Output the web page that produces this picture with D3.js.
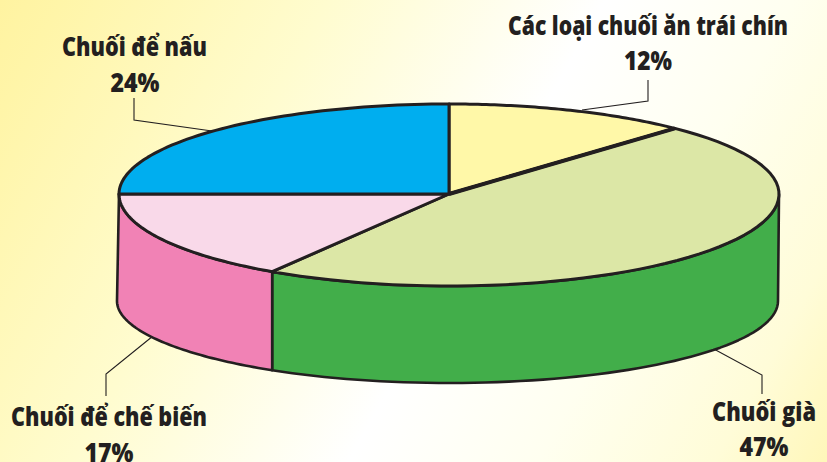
<!DOCTYPE html>
<html><head><meta charset="utf-8">
<script src="https://cdn.jsdelivr.net/npm/d3@7"></script>
<style>html,body{margin:0;padding:0;background:#fff}svg{display:block}
text{font-family:"Open Sans","Noto Sans",sans-serif;font-weight:800;fill:#231f20;text-anchor:middle}</style>
</head><body><script>
const categories = ["Các loại chuối ăn trái chín","Chuối già","Chuối để chế biến","Chuối để nấu"];
const percentLabels = ["12%","47%","17%","24%"];
const sliceShares = [12,47,16,25];
const topColors = ["#fff8a8","#dce7a6","#f9d9e9","#00aeef"];
const sideColors = [null,"#42ae4a","#f182b5",null];

(function(){
const W=827,H=462, cx=449, cy=194, rx=330, ryUp=90, ryDown=92, by=301, bry=82;
const svg=d3.select("body").append("svg").attr("width",W).attr("height",H);
const defs=svg.append("defs");
const g=defs.append("linearGradient").attr("id","bg").attr("gradientUnits","userSpaceOnUse")
 .attr("x1",-10).attr("y1",10).attr("x2",837).attr("y2",480);
[[0,"#fff3a0"],[0.06,"#fff5a8"],[0.3,"#fffccf"],[0.55,"#ffffff"],[0.72,"#fffff0"],[0.88,"#fffcd8"],[1,"#fff6b4"]]
 .forEach(([o,c])=>g.append("stop").attr("offset",o).attr("stop-color",c));
svg.append("rect").attr("width",W).attr("height",H).attr("fill","url(#bg)");

const pie=d3.pie().sort(null).value(d=>d)(sliceShares);
const ink="#231f20";
const line=d3.line();
const sweep=(a0,a1)=>d3.range(0,61).map(k=>a0+(a1-a0)*k/60);

// leaders
const leaders=[[[648,80],[648,101],[582,110]],[[762,394],[762,375],[712,348]],[[106,396],[106,374],[153,336]],[[134,98],[134,120],[212,131]]];
svg.selectAll(".leader").data(leaders).join("path").attr("d",line).attr("fill","none").attr("stroke",ink).attr("stroke-width",1.1);

// side walls
const upper=(a)=>{const c=Math.cos(a);return [cx+rx*Math.sin(a),cy-(c>0?ryUp:ryDown)*c];};
const lower=(a)=>{const s=Math.sin(a),e=Math.pow(s,8);return [cx+rx*s-(s>0?1:2)*e,by-bry*Math.cos(a)];};
pie.forEach((p,i)=>{
  if(!sideColors[i])return;
  const a0=Math.max(p.startAngle,Math.PI/2), a1=Math.min(p.endAngle,1.5*Math.PI);
  const as=sweep(a0,a1);
  const pts=as.map(upper).concat(as.slice().reverse().map(lower));
  svg.append("path").attr("d",line(pts)+"Z").attr("fill",sideColors[i]).attr("stroke",ink).attr("stroke-width",2.6).attr("stroke-linejoin","round");
});

// top slices
svg.append("g").selectAll("path").data(pie).join("path")
 .attr("d",d=>line([[cx,cy]].concat(sweep(d.startAngle,d.endAngle).map(upper)))+"Z")
 .attr("fill",(d,i)=>topColors[i]).attr("stroke",ink).attr("stroke-width",3)
 .attr("stroke-linejoin","round");

// thick spoke between yellow and green
svg.append("path").attr("d",line([[cx,cy],upper(pie[0].endAngle)])).attr("stroke",ink).attr("stroke-width",4).attr("fill","none");

// labels: condensed horizontally to the reference's widths
const nameBox=[[648,35,280],[764,421,104],[109,426,196],[134.5,56,145]];
const pctBox=[[648,70,48],[764,456,49],[109,462,49],[135,92,49]];
function label(str,b){
  const t=svg.append("text").attr("font-size",26.5).text(str);
  const sx=b[2]/t.node().getComputedTextLength();
  t.attr("transform",`translate(${b[0]},${b[1]}) scale(${sx},1)`);
}
categories.forEach((c,i)=>{ label(c,nameBox[i]); label(percentLabels[i],pctBox[i]); });
})();
</script></body></html>
